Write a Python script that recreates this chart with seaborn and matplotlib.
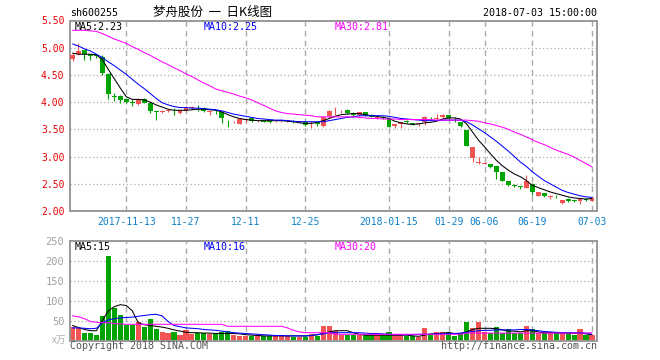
import numpy as np
import pandas as pd
import matplotlib
matplotlib.use("Agg")
import matplotlib.pyplot as plt
import seaborn as sns

# ---------------- data ----------------
opens = [4.79, 4.88, 4.95, 4.89, 4.87, 4.83, 4.51, 4.12, 4.12, 4.05,
         4.00, 3.96, 4.06, 3.99, 3.83, 3.82, 3.83, 3.86, 3.80, 3.84,
         3.90, 3.93, 3.90, 3.82, 3.84, 3.82, 3.66, 3.63, 3.60, 3.67,
         3.70, 3.65, 3.67, 3.65, 3.65, 3.66, 3.66, 3.66, 3.64, 3.63,
         3.63, 3.63, 3.57, 3.75, 3.83, 3.83, 3.86, 3.80, 3.76, 3.81,
         3.77, 3.71, 3.72, 3.71, 3.57, 3.59, 3.66, 3.61, 3.60, 3.63,
         3.71, 3.69, 3.72, 3.76, 3.71, 3.63, 3.49, 2.98, 2.88, 2.87,
         2.86, 2.82, 2.71, 2.55, 2.47, 2.45, 2.43, 2.50, 2.28, 2.33,
         2.25, 2.28, 2.14, 2.22, 2.20, 2.18, 2.21, 2.19]
closes = [4.87, 4.94, 4.89, 4.85, 4.84, 4.53, 4.15, 4.10, 4.04, 4.00,
          3.99, 4.06, 3.99, 3.83, 3.82, 3.83, 3.85, 3.85, 3.85, 3.89,
          3.91, 3.92, 3.84, 3.83, 3.83, 3.71, 3.65, 3.64, 3.69, 3.68,
          3.65, 3.66, 3.64, 3.64, 3.66, 3.67, 3.67, 3.65, 3.65, 3.58,
          3.64, 3.59, 3.72, 3.83, 3.84, 3.84, 3.80, 3.76, 3.81, 3.76,
          3.73, 3.72, 3.71, 3.55, 3.59, 3.63, 3.63, 3.60, 3.61, 3.72,
          3.70, 3.70, 3.76, 3.70, 3.70, 3.57, 3.20, 3.17, 2.89, 2.88,
          2.81, 2.72, 2.56, 2.48, 2.46, 2.44, 2.56, 2.34, 2.34, 2.27,
          2.28, 2.27, 2.20, 2.19, 2.19, 2.22, 2.20, 2.23]
highs = [4.91, 5.08, 4.95, 4.89, 4.88, 4.86, 4.53, 4.16, 4.13, 4.07,
         4.05, 4.08, 4.07, 4.01, 3.83, 3.85, 3.87, 3.90, 3.86, 3.93,
         3.92, 3.94, 3.91, 3.84, 3.85, 3.84, 3.67, 3.65, 3.70, 3.70,
         3.71, 3.68, 3.68, 3.66, 3.68, 3.68, 3.68, 3.67, 3.66, 3.64,
         3.65, 3.64, 3.73, 3.86, 3.91, 3.86, 3.87, 3.81, 3.82, 3.82,
         3.78, 3.74, 3.74, 3.72, 3.60, 3.64, 3.67, 3.62, 3.62, 3.74,
         3.73, 3.79, 3.78, 3.76, 3.72, 3.64, 3.49, 3.18, 3.00, 2.90,
         2.87, 2.83, 2.71, 2.55, 2.49, 2.46, 2.66, 2.51, 2.35, 2.33,
         2.29, 2.29, 2.21, 2.23, 2.21, 2.23, 2.22, 2.24]
lows = [4.75, 4.87, 4.77, 4.78, 4.82, 4.49, 4.05, 4.02, 3.99, 3.98,
        3.92, 3.94, 3.98, 3.80, 3.68, 3.80, 3.82, 3.77, 3.78, 3.83,
        3.87, 3.84, 3.82, 3.76, 3.79, 3.62, 3.54, 3.62, 3.59, 3.63,
        3.64, 3.63, 3.63, 3.62, 3.63, 3.63, 3.64, 3.62, 3.63, 3.57,
        3.52, 3.56, 3.55, 3.70, 3.77, 3.80, 3.79, 3.73, 3.75, 3.74,
        3.72, 3.69, 3.69, 3.54, 3.52, 3.53, 3.61, 3.58, 3.57, 3.58,
        3.67, 3.68, 3.71, 3.69, 3.64, 3.55, 3.19, 2.90, 2.87, 2.86,
        2.79, 2.58, 2.56, 2.46, 2.44, 2.41, 2.42, 2.30, 2.27, 2.25,
        2.22, 2.24, 2.13, 2.17, 2.17, 2.12, 2.18, 2.18]

ma5 = [4.90, 4.88, 4.88, 4.88, 4.87, 4.78, 4.60, 4.43, 4.26, 4.10,
       4.05, 4.05, 4.04, 4.00, 3.95, 3.91, 3.87, 3.85, 3.85, 3.85,
       3.86, 3.87, 3.87, 3.86, 3.85, 3.82, 3.77, 3.73, 3.70, 3.68,
       3.67, 3.66, 3.66, 3.66, 3.66, 3.66, 3.65, 3.64, 3.62, 3.61,
       3.61, 3.63, 3.66, 3.70, 3.74, 3.77, 3.78, 3.79, 3.79, 3.77,
       3.75, 3.74, 3.72, 3.70, 3.65, 3.62, 3.60, 3.59, 3.60, 3.62,
       3.63, 3.65, 3.69, 3.71, 3.71, 3.69, 3.60, 3.45, 3.30, 3.18,
       3.05, 2.93, 2.83, 2.75, 2.68, 2.63, 2.56, 2.47, 2.43, 2.39,
       2.35, 2.32, 2.29, 2.26, 2.24, 2.23, 2.22, 2.23]
ma10 = [5.07, 5.03, 4.98, 4.94, 4.88, 4.82, 4.74, 4.67, 4.59, 4.51,
        4.42, 4.33, 4.25, 4.16, 4.07, 3.99, 3.95, 3.92, 3.90, 3.90,
        3.89, 3.89, 3.88, 3.87, 3.86, 3.84, 3.81, 3.78, 3.76, 3.74,
        3.72, 3.70, 3.69, 3.68, 3.67, 3.67, 3.66, 3.65, 3.64, 3.64,
        3.64, 3.64, 3.64, 3.66, 3.68, 3.70, 3.72, 3.73, 3.75, 3.75,
        3.75, 3.75, 3.75, 3.74, 3.72, 3.70, 3.69, 3.68, 3.67, 3.66,
        3.66, 3.66, 3.67, 3.67, 3.67, 3.67, 3.64, 3.58, 3.51, 3.44,
        3.36, 3.28, 3.19, 3.10, 3.00, 2.90, 2.82, 2.72, 2.64, 2.56,
        2.50, 2.44, 2.38, 2.34, 2.31, 2.28, 2.26, 2.25]
ma30 = [5.32, 5.32, 5.32, 5.31, 5.30, 5.26, 5.21, 5.16, 5.12, 5.08,
        5.02, 4.97, 4.91, 4.86, 4.80, 4.74, 4.69, 4.63, 4.58, 4.52,
        4.47, 4.41, 4.35, 4.30, 4.24, 4.21, 4.18, 4.15, 4.11, 4.08,
        4.04, 3.99, 3.94, 3.89, 3.84, 3.81, 3.79, 3.78, 3.77, 3.76,
        3.75, 3.73, 3.73, 3.73, 3.73, 3.73, 3.73, 3.73, 3.72, 3.71,
        3.70, 3.70, 3.69, 3.69, 3.69, 3.68, 3.68, 3.68, 3.68, 3.68,
        3.68, 3.67, 3.67, 3.67, 3.67, 3.67, 3.67, 3.66, 3.65, 3.62,
        3.60, 3.57, 3.54, 3.50, 3.45, 3.41, 3.36, 3.31, 3.26, 3.22,
        3.17, 3.12, 3.08, 3.04, 2.99, 2.93, 2.87, 2.81]

volume = [35, 31, 20, 20, 14, 62, 212, 81, 64, 39,
          39, 47, 35, 54, 29, 22, 20, 22, 15, 28,
          17, 19, 19, 17, 17, 21, 24, 15, 13, 13,
          12, 12, 12, 12, 12, 12, 12, 10, 10, 10,
          17, 12, 38, 36, 25, 15, 14, 14, 14, 14,
          14, 14, 14, 22, 14, 14, 12, 12, 10, 32,
          17, 22, 22, 22, 12, 20, 47, 32, 47, 22,
          19, 34, 19, 29, 19, 19, 37, 29, 19, 19,
          19, 19, 19, 19, 14, 29, 14, 14]
vol_ma5 = [38, 33, 28, 25, 25, 50, 75, 85, 90, 88,
           75, 45, 40, 38, 36, 34, 31, 27, 24, 21,
           20, 20, 19, 19, 18, 18, 18, 18, 17, 15,
           14, 13, 12, 12, 12, 12, 12, 12, 12, 12,
           13, 15, 18, 22, 25, 25, 25, 20, 16, 14,
           14, 14, 14, 14, 14, 14, 14, 12, 11, 14,
           17, 18, 19, 20, 18, 18, 22, 28, 31, 31,
           31, 30, 27, 24, 24, 22, 25, 25, 22, 20,
           20, 20, 19, 19, 18, 19, 17, 15]
vol_ma10 = [32, 32, 31, 30, 31, 45, 52, 55, 57, 58,
            59, 61, 63, 65, 66, 62, 48, 38, 35, 32,
            31, 30, 28, 27, 26, 24, 22, 20, 19, 18,
            17, 16, 15, 14, 13, 13, 12, 12, 12, 12,
            13, 15, 17, 20, 20, 20, 20, 20, 20, 19,
            18, 18, 17, 16, 15, 15, 15, 15, 16, 16,
            16, 17, 17, 18, 18, 19, 21, 23, 25, 26,
            26, 27, 27, 27, 27, 28, 28, 27, 25, 23,
            22, 21, 20, 20, 20, 20, 19, 16]
vol_ma30 = [62, 60, 55, 48, 46, 45, 45, 43, 42, 41,
            41, 41, 41, 41, 41, 41, 41, 41, 41, 41,
            41, 41, 41, 41, 41, 41, 36, 36, 36, 36,
            36, 36, 36, 36, 36, 36, 32, 26, 22, 20,
            20, 20, 20, 20, 16, 16, 16, 16, 16, 16,
            16, 16, 16, 16, 16, 16, 16, 16, 16, 16,
            16, 16, 16, 16, 16, 16, 19, 19, 19, 19,
            19, 19, 19, 19, 19, 19, 19, 19, 19, 19,
            19, 19, 19, 19, 19, 19, 19, 20]

tick_pos = [9, 19, 29, 39, 53, 63, 69, 77, 87]
tick_labels = ["2017-11-13", "11-27", "12-11", "12-25", "2018-01-15",
               "01-29", "06-06", "06-19", "07-03"]
price_ticks = [2.00, 2.50, 3.00, 3.50, 4.00, 4.50, 5.00, 5.50]
vol_ticks = [0, 50, 100, 150, 200, 250]

# ---------------- build frame ----------------
df = pd.DataFrame({"open": opens, "close": closes, "high": highs, "low": lows,
                   "ma5": ma5, "ma10": ma10, "ma30": ma30, "vol": volume,
                   "vma5": vol_ma5, "vma10": vol_ma10, "vma30": vol_ma30})
df["idx"] = np.arange(len(df))
RED, GREEN = "#f25454", "#00a400"
df["col"] = np.where(df["close"] >= df["open"], RED, GREEN)

sns.set_theme(style="white")
plt.rcParams["font.family"] = ["DejaVu Sans Mono", "Noto Sans CJK SC"]

W, H = 660, 360
fig = plt.figure(figsize=(W / 100, H / 100), dpi=100)
fig.patch.set_facecolor("white")

def px_axes(l, t, r, b):
    return fig.add_axes([l / W, 1 - b / H, (r - l) / W, (b - t) / H])

axp = px_axes(70, 20.5, 597, 211)
axv = px_axes(70, 240.7, 597, 340.7)

n = len(df)
xlim = (-0.42, n - 1 + 0.84)
GRID = "#aaaaaa"
SPINE = "#999999"
LW = 0.75

# ---- price panel ----
for yv in price_ticks[1:-1]:
    axp.axhline(yv, color=GRID, lw=0.9, ls=(0, (1, 2)), zorder=0)
for xv in tick_pos:
    axp.axvline(xv, color=GRID, lw=1.0, ls=(0, (4, 3)), zorder=0)
    axv.axvline(xv, color=GRID, lw=1.0, ls=(0, (4, 3)), zorder=0)

axp.vlines(df["idx"], df["low"], df["high"], colors=df["col"], lw=0.8, zorder=2)
body_h = np.maximum((df["close"] - df["open"]).abs(), 0.012)
body_b = np.minimum(df["open"], df["close"])
axp.bar(df["idx"], body_h, bottom=body_b, width=0.82, color=df["col"],
        linewidth=0, zorder=3)

sns.lineplot(data=df, x="idx", y="ma5", ax=axp, color="black", lw=LW, zorder=4)
sns.lineplot(data=df, x="idx", y="ma10", ax=axp, color="#0000ff", lw=LW, zorder=4)
sns.lineplot(data=df, x="idx", y="ma30", ax=axp, color="#ff00ff", lw=LW, zorder=4)

axp.set_xlim(*xlim)
axp.set_ylim(2.0, 5.5)
axp.set_yticks(price_ticks)
axp.set_yticklabels([f"{v:.2f}" for v in price_ticks], color="#ee0000", fontsize=7)
axp.set_xticks(tick_pos)
axp.set_xticklabels(tick_labels, color="#0a80c8", fontsize=7)
axp.tick_params(axis="both", length=0, pad=4)
axp.set_xlabel("")
axp.set_ylabel("")

# ---- volume panel ----
for yv in vol_ticks[1:-1]:
    axv.axhline(yv, color=GRID, lw=0.9, ls=(0, (1, 2)), zorder=0)
axv.bar(df["idx"], df["vol"], width=0.86, color=df["col"], linewidth=0, zorder=2)
sns.lineplot(data=df, x="idx", y="vma5", ax=axv, color="black", lw=LW, zorder=4)
sns.lineplot(data=df, x="idx", y="vma10", ax=axv, color="#0000ff", lw=LW, zorder=4)
sns.lineplot(data=df, x="idx", y="vma30", ax=axv, color="#ff00ff", lw=LW, zorder=4)
axv.set_xlim(*xlim)
axv.set_ylim(0, 250)
axv.set_yticks(vol_ticks[1:])
axv.set_yticklabels([str(v) for v in vol_ticks[1:]], color="#a0a0a0", fontsize=7.5)
axv.set_xticks([])
axv.tick_params(axis="both", length=0, pad=4)
axv.set_xlabel("")
axv.set_ylabel("")

for ax in (axp, axv):
    for s in ax.spines.values():
        s.set_color(SPINE)
        s.set_linewidth(1.4)
        s.set_visible(True)

# ---- texts ----
def ftext(x, y, s, **kw):
    fig.text(x / W, 1 - y / H, s, **kw)

ftext(70, 13, "sh600255", fontsize=7.2, color="black", va="center", ha="left")
ftext(213, 12.5, "梦舟股份  一  日K线图", fontsize=9, color="black", va="center",
      ha="center", family=["Noto Sans CJK SC", "DejaVu Sans"])
ftext(597, 13, "2018-07-03 15:00:00", fontsize=7.2, color="black", va="center", ha="right")

ftext(75, 27, f"MA5:{ma5[-1]:.2f}", fontsize=7.2, color="black", va="center")
ftext(204, 27, f"MA10:{ma10[-1]:.2f}", fontsize=7.2, color="#0000ff", va="center")
ftext(335, 27, f"MA30:{ma30[-1]:.2f}", fontsize=7.2, color="#ff00ff", va="center")

ftext(75, 246.5, "MA5:15", fontsize=7.2, color="black", va="center")
ftext(204, 246.5, "MA10:16", fontsize=7.2, color="#0000ff", va="center")
ftext(335, 246.5, "MA30:20", fontsize=7.2, color="#ff00ff", va="center")

ftext(66, 340, "x万", fontsize=7, color="#b0b0b0", va="center", ha="right",
      style="italic", family=["Noto Sans CJK SC", "DejaVu Sans"])
ftext(70, 346, "Copyright 2018 SINA.COM", fontsize=7.2, color="#555555", va="center")
ftext(597, 346, "http://finance.sina.com.cn", fontsize=7.2, color="#555555",
      va="center", ha="right")

fig.savefig("out.png", dpi=100, facecolor="white")
